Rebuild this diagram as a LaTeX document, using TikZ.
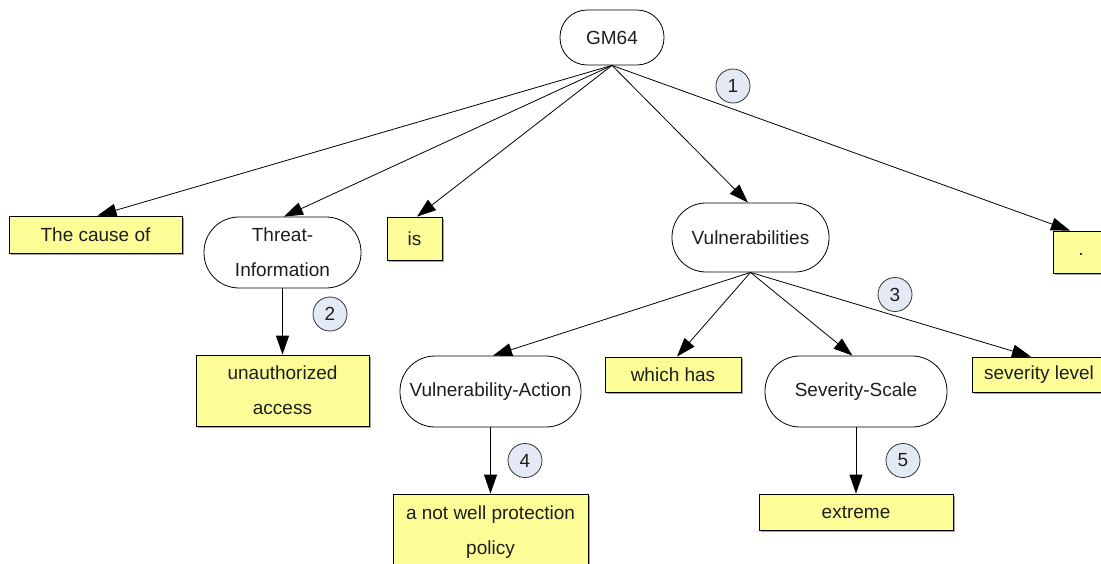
\documentclass[tikz,border=0pt]{standalone}
\usepackage{fontspec}
\setmainfont{Liberation Sans}
\usetikzlibrary{arrows.meta,shadows}
\definecolor{noteyellow}{HTML}{FDFD98}
\definecolor{markblue}{HTML}{E4EAF5}
\definecolor{inktext}{HTML}{1E1E1E}
\begin{document}
\begin{tikzpicture}[x=1pt,y=-1pt,
  every node/.style={font=\fontsize{19}{35}\selectfont, text=inktext, inner sep=0pt},
  concept/.style={draw=black, line width=0.8pt, fill=white, rounded corners=#1, align=center},
  concept/.default=30pt,
  word/.style={draw=black, line width=0.8pt, fill=noteyellow, align=center,
    drop shadow={shadow xshift=1.6pt, shadow yshift=-1.6pt, fill=black!45, opacity=0.8}},
  stepmark/.style={circle, draw=black!80, line width=0.8pt, fill=markblue, minimum size=34pt},
  link/.style={draw=black, line width=0.8pt, -{Triangle[length=19pt,width=13pt]}}]
\useasboundingbox (0,0) rectangle (1101,564);

% concept nodes (stadium shapes)
\node[concept=27pt, minimum width=104pt, minimum height=55pt] (gm) at (612,37.5) {GM64};
\node[concept=35pt, minimum width=157pt, minimum height=71pt] (threat) at (282.5,252.5) {Threat-\\Information};
\node[concept=34pt, minimum width=157pt, minimum height=69pt] (vul) at (750.5,237.5) {Vulnerabilities};
\node[concept=35pt, minimum width=181pt, minimum height=71pt] (vact) at (490.5,391.5) {Vulnerability-Action};
\node[concept=35pt, minimum width=182pt, minimum height=71pt] (sscale) at (856,391.5) {Severity-Scale};

% word nodes (yellow boxes)
\node[word, minimum width=173pt, minimum height=37pt] (cause) at (95.5,234.5) {The cause of};
\node[word, minimum width=55pt, minimum height=43pt] (is) at (414.5,238.5) {is};
\node[word, minimum width=56pt, minimum height=42pt] (dot) at (1081,252) {\raisebox{-8pt}{.}};
\node[word, minimum width=173pt, minimum height=71pt] (unauth) at (282.5,390.5) {unauthorized\\access};
\node[word, minimum width=136pt, minimum height=35pt] (which) at (673,374.5) {which has};
\node[word, minimum width=134pt, minimum height=35pt] (level) at (1039,374.5) {severity level};
\node[word, minimum width=195pt, minimum height=76pt] (policy) at (490.5,532) {a not well protection\\policy};
\node[word, minimum width=194pt, minimum height=36pt] (extreme) at (856,512) {extreme};

% numbered markers
\node[stepmark] (m1) at (733,86) {1};
\node[stepmark] (m2) at (330,314) {2};
\node[stepmark] (m3) at (895,294.5) {3};
\node[stepmark] (m4) at (525,460.5) {4};
\node[stepmark] (m5) at (903,460.5) {5};

% connectors
\draw[link] (gm.south) -- ([xshift=2pt]cause.north);
\draw[link] (gm.south) -- ([xshift=1.5pt]threat.north);
\draw[link] (gm.south) -- ([xshift=2.5pt]is.north);
\draw[link] (gm.south) -- ([xshift=-2.5pt]vul.north);
\draw[link] (gm.south) -- ([xshift=-11pt]dot.north);
\draw[link] (threat.south) -- (unauth.north);
\draw[link] (vul.south) -- ([xshift=2.5pt]vact.north);
\draw[link] (vul.south) -- ([xshift=4pt]which.north);
\draw[link] (vul.south) -- ([xshift=-3.5pt]sscale.north);
\draw[link] (vul.south) -- ([xshift=-8pt]level.north);
\draw[link] (vact.south) -- (policy.north);
\draw[link] (sscale.south) -- (extreme.north);
\end{tikzpicture}
\end{document}
